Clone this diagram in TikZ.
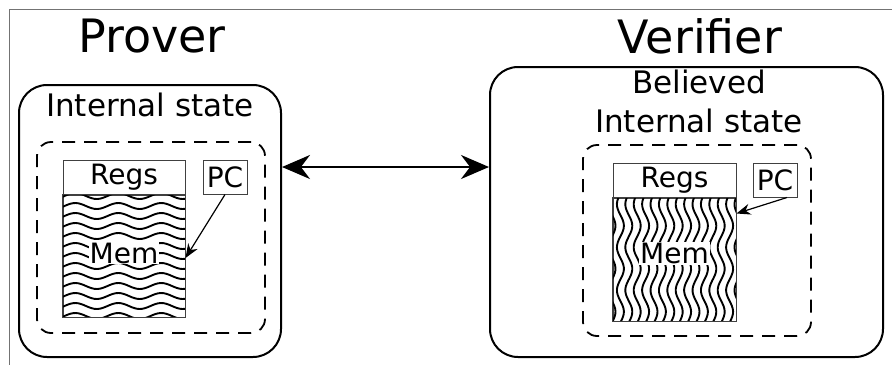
\documentclass[tikz,border=0pt]{standalone}
\usepackage{fontspec}
\setmainfont{DejaVu Sans}
\usetikzlibrary{positioning,arrows.meta}

\begin{document}
\begin{tikzpicture}[x=1pt,y=-1pt,
                    party box/.style={draw,line width=2pt,rounded corners=28pt,inner sep=0pt},
                    state box/.style={draw,line width=1.8pt,dash pattern=on 13pt off 9pt,
                                      rounded corners=14pt,inner sep=0pt,
                                      minimum width=228pt,minimum height=191pt},
                    reg box/.style={draw=black!75,line width=1pt,inner sep=0pt,
                                    minimum width=122pt,minimum height=34pt,font=\fontsize{28}{30}\selectfont},
                    mem box/.style={draw=black!75,line width=1pt,inner sep=0pt,
                                    minimum width=122pt,minimum height=122pt},
                    pc box/.style={draw=black!75,line width=1pt,inner sep=0pt,
                                   minimum width=44pt,minimum height=34pt,font=\fontsize{28}{30}\selectfont},
                    mem text/.style={fill=white,inner sep=1pt,font=\fontsize{28}{30}\selectfont},
                    party name/.style={font=\fontsize{46}{50}\selectfont},
                    state text/.style={font=\fontsize{31}{39}\selectfont,align=center},
                    wave/.style={line width=1.9pt},
                    pc arrow/.style={-{Stealth[length=14pt,width=11pt]},line width=1.2pt},
                    link/.style={{Stealth[length=28pt,width=24pt]}-{Stealth[length=28pt,width=24pt]},line width=2.5pt}]

  \useasboundingbox (0,0) rectangle (892,365);
  \draw[black!55,line width=1pt] (892,9) -- (9,9) -- (9,365);

  % prover side
  \node[party name] (prover) at (152,36) {Prover};
  \node[party box,minimum width=262pt,minimum height=272pt] (lout) at (150,221) {};
  \node[state text] (lstate) at (150,105) {Internal state};
  \node[state box] (lstatebox) at (151,237.5) {};
  \node[reg box] (lregs) at (124,177) {Regs};
  \node[mem box] (lmem) [below=0pt of lregs] {};
  \node[pc box] (lpc) [right=17pt of lregs] {PC};
  \begin{scope}
    \clip (lmem.south west) rectangle (lmem.north east);
    \foreach \k in {0,...,12}
      \draw[wave] plot[domain=60:190,samples=50,smooth] (\x,{196+10*\k+3*sin(\x*8.372)});
  \end{scope}
  \draw[black!75,line width=1pt] (lmem.south west) rectangle (lmem.north east);
  \node[mem text] (lmemtxt) at ([yshift=3pt]lmem.center) {Mem};
  \draw[pc arrow] (lpc.south) -- ([yshift=-2pt]lmem.east);

  % verifier side
  \node[party name] (verifier) at (700,36) {Verifier};
  \node[party box,minimum width=393pt,minimum height=290pt] (rout) at (686.5,212) {};
  \node[state text] (rstate) at (699,101) {Believed\\Internal state};
  \node[state box] (rstatebox) at (697,240.5) {};
  \node[reg box,minimum width=123pt] (rregs) at (674.5,180) {Regs};
  \node[mem box,minimum width=123pt,minimum height=123pt] (rmem) [below=0pt of rregs] {};
  \node[pc box] (rpc) [right=16pt of rregs] {PC};
  \begin{scope}
    \clip (rmem.south west) rectangle (rmem.north east);
    \foreach \k in {0,...,15}
      \draw[wave] plot[domain=190:325,samples=50,smooth] ({612+8.4*\k+3.5*sin(\x*8.372)},\x);
  \end{scope}
  \draw[black!75,line width=1pt] (rmem.south west) rectangle (rmem.north east);
  \node[mem text] (rmemtxt) at ([yshift=6pt]rmem.center) {Mem};
  \draw[pc arrow] ([xshift=12pt]rpc.south) -- ([yshift=-16pt]rmem.north east);

  \draw[link] ([yshift=54pt]lout.east) -- ([yshift=45pt]rout.west);
\end{tikzpicture}
\end{document}
